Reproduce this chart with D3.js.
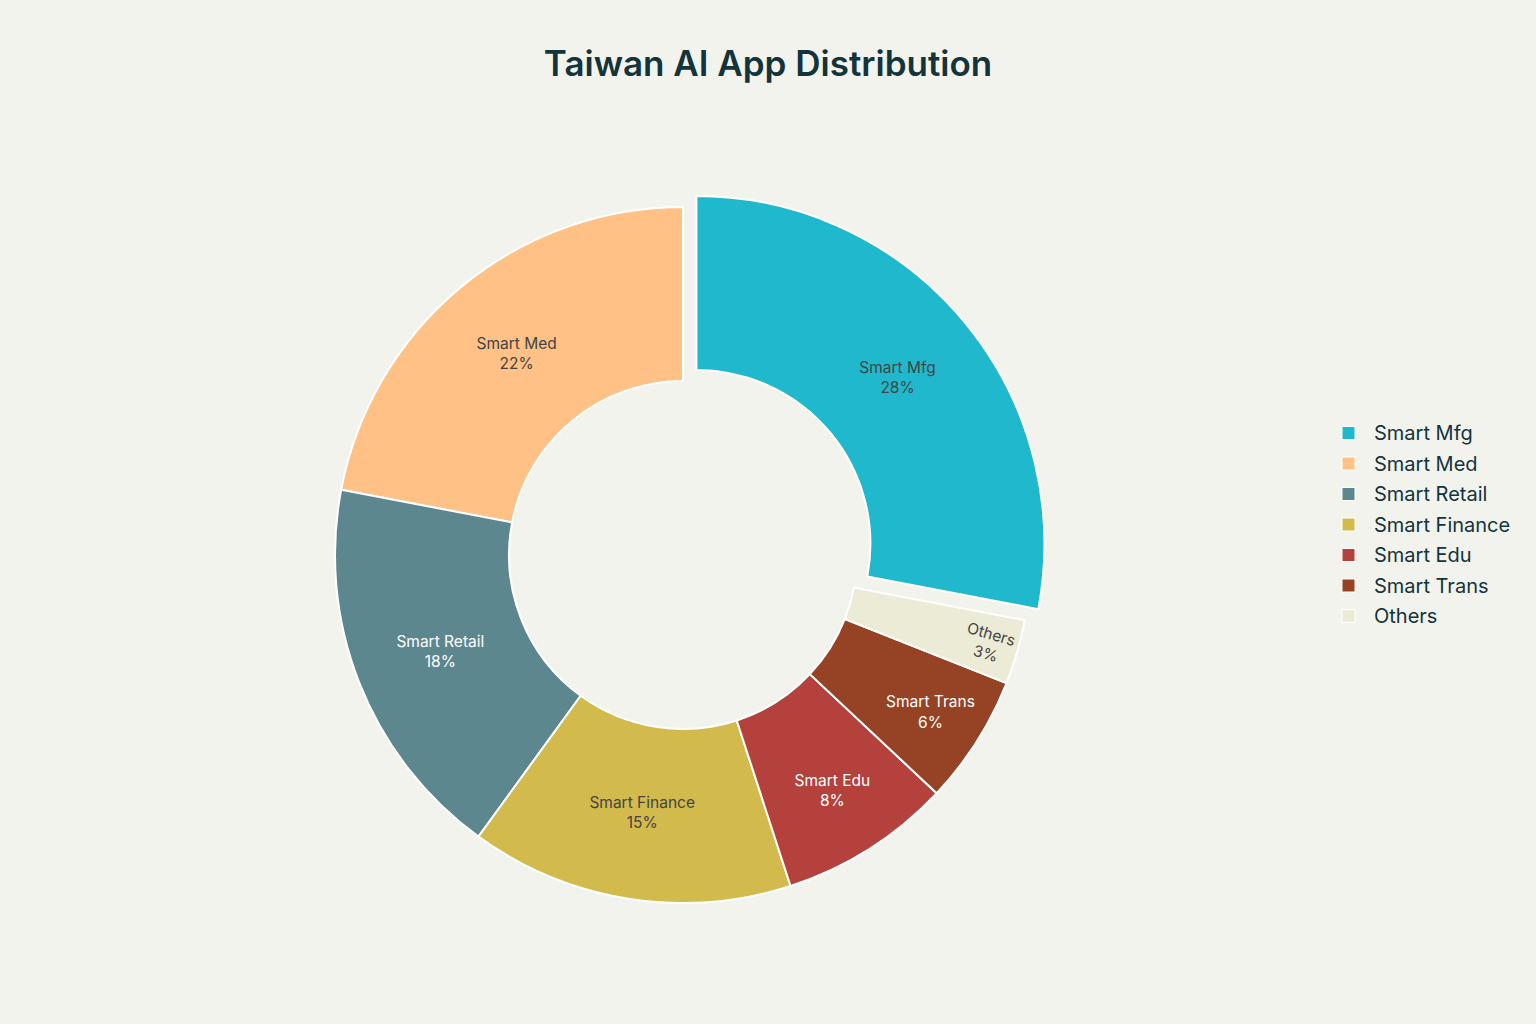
<!DOCTYPE html>
<html>
<head>
<meta charset="utf-8">
<script src="https://cdn.jsdelivr.net/npm/d3@7"></script>
<style>
  body { margin: 0; background: #F3F3EE; }
  text { font-family: Inter, "Liberation Sans", Arial, sans-serif; }
</style>
</head>
<body>
<div id="chart"></div>
<script>
var categories = ["Smart Mfg", "Smart Med", "Smart Retail", "Smart Finance", "Smart Edu", "Smart Trans", "Others"];
var values = [28, 22, 18, 15, 8, 6, 3];
var colors = ["#1FB8CD", "#FFC185", "#5D878F", "#D2BA4C", "#B4413C", "#964325", "#ECEBD5"];
var pulled = ["Smart Mfg"];
var title = "Taiwan AI App Distribution";

var width = 1536, height = 1024;
var cx = 683, cy = 555;
var outerR = 348, hole = 0.5;
var innerR = outerR * hole;
var pullDist = 0.05 * outerR;

var svg = d3.select("#chart")
  .append("svg")
    .attr("width", width)
    .attr("height", height);

svg.append("rect")
  .attr("width", width)
  .attr("height", height)
  .attr("fill", "#F3F3EE");

svg.append("text")
  .attr("x", width / 2)
  .attr("y", 76)
  .attr("text-anchor", "middle")
  .attr("font-size", 35)
  .attr("font-weight", 600)
  .attr("fill", "#13343B")
  .text(title);

var data = categories.map(function(c, i) {
  return {name: c, value: values[i], color: colors[i]};
});

// first slice ends at 12 o'clock, the rest run counterclockwise from there
var total = d3.sum(values);
var start = values[0] / total * 2 * Math.PI;
var pie = d3.pie()
  .sort(null)
  .value(function(d) { return d.value; })
  .startAngle(start)
  .endAngle(start - 2 * Math.PI);

var arcs = pie(data);

var arc = d3.arc()
  .innerRadius(innerR)
  .outerRadius(outerR);

var g = svg.append("g")
  .attr("transform", "translate(" + cx + "," + cy + ")");

function midAngle(d) { return (d.startAngle + d.endAngle) / 2; }

function offset(d) {
  if (pulled.indexOf(d.data.name) < 0) return [0, 0];
  var a = midAngle(d);
  return [Math.sin(a) * pullDist, -Math.cos(a) * pullDist];
}

var slices = g.selectAll("g.slice")
  .data(arcs)
  .enter()
  .append("g")
    .attr("class", "slice")
    .attr("transform", function(d) { var o = offset(d); return "translate(" + o[0] + "," + o[1] + ")"; });

slices.append("path")
  .attr("d", arc)
  .attr("fill", function(d) { return d.data.color; })
  .attr("stroke", "#FFFFFF")
  .attr("stroke-width", 2);

// label placement: inscribed circle of the slice, like plotly does it
function inscribed(d) {
  var half = Math.abs(d.endAngle - d.startAngle) / 2;
  return Math.min(1 / (1 + 1 / Math.sin(half)), (1 - hole) / 2);
}

var labels = slices.append("text")
  .attr("font-size", 15.5)
  .attr("text-anchor", "middle")
  .attr("fill", function(d) { return d3.lab(d.data.color).l > 60 ? "#444444" : "#FFFFFF"; });

labels.append("tspan")
  .attr("x", 0)
  .attr("dy", "-0.2em")
  .text(function(d) { return d.data.name; });
labels.append("tspan")
  .attr("x", 0)
  .attr("dy", "1.3em")
  .text(function(d) { return d.value + "%"; });

labels.attr("transform", function(d) {
  var rIns = inscribed(d);
  var rC = (1 - rIns) * outerR;
  var a = midAngle(d);
  var x = Math.sin(a) * rC, y = -Math.cos(a) * rC;
  var bb = this.getBBox();
  var h = 40; // two lines of text
  var diam = Math.sqrt(bb.width * bb.width + h * h);
  var rot = 0;
  if (diam > 2 * rIns * outerR) {
    // tangential, kept readable
    rot = ((a * 180 / Math.PI - 90) % 180 + 180) % 180;
    if (rot > 90) rot -= 180;
  }
  var ty = -(bb.y + bb.height / 2);
  return "translate(" + x + "," + y + ") rotate(" + rot + ") translate(0," + ty + ")";
});

// legend
var legend = svg.append("g")
  .attr("transform", "translate(1342,433)");

var item = legend.selectAll("g")
  .data(data)
  .enter()
  .append("g")
    .attr("transform", function(d, i) { return "translate(0," + (i * 30.5) + ")"; });

item.append("rect")
  .attr("x", 0)
  .attr("y", -6.5)
  .attr("width", 13)
  .attr("height", 13)
  .attr("fill", function(d) { return d.color; })
  .attr("stroke", "#FFFFFF")
  .attr("stroke-width", 1);

item.append("text")
  .attr("x", 32)
  .attr("y", 7)
  .attr("font-size", 20)
  .attr("fill", "#13343B")
  .text(function(d) { return d.name; });
</script>
</body>
</html>
